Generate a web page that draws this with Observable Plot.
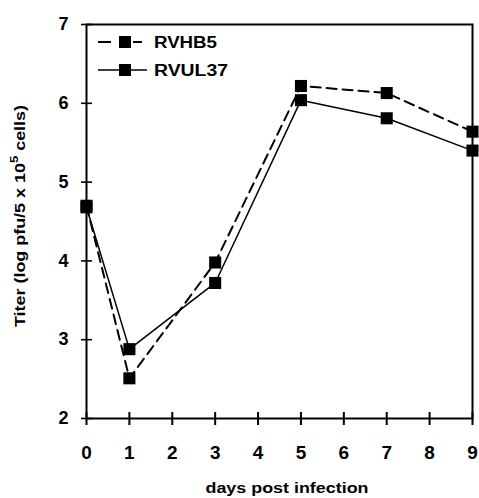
<!DOCTYPE html>
<html>
<head>
<meta charset="utf-8">
<script src="https://cdn.jsdelivr.net/npm/d3@7"></script>
<script src="https://cdn.jsdelivr.net/npm/@observablehq/plot@0.6"></script>
<style>
  html, body { margin: 0; padding: 0; background: #fff; }
  #chart svg { display: block; }
</style>
</head>
<body>
<div id="chart"></div>
<script>
// Data
const days = [0, 1, 3, 5, 7, 9];
const rvhb5 = [4.70, 2.51, 3.98, 6.22, 6.13, 5.64];
const rvul37 = [4.68, 2.88, 3.72, 6.04, 5.81, 5.40];
const xTicks = [0, 1, 2, 3, 4, 5, 6, 7, 8, 9];
const yTicks = [2, 3, 4, 5, 6, 7];
const seriesNames = ["RVHB5", "RVUL37"];
const xLabel = "days post infection";

const dataHB5 = days.map((d, i) => ({day: d, titer: rvhb5[i]}));
const dataUL37 = days.map((d, i) => ({day: d, titer: rvul37[i]}));

const font = "'Liberation Sans', Arial, sans-serif";
const fmt = d3.format("d");

const plot = Plot.plot({
  width: 479,
  height: 498,
  marginLeft: 86,
  marginRight: 7,
  marginTop: 24,
  marginBottom: 80,
  style: {fontFamily: font, fontWeight: "bold", fontSize: "17px", color: "#000", background: "#fff"},
  x: {domain: [0, 9]},
  y: {domain: [2, 7]},
  marks: [
    // crossing tick marks
    Plot.axisX(xTicks, {tickSize: 13, dy: -6, fill: "none", label: null, strokeWidth: 2}),
    Plot.axisY(yTicks, {tickSize: 11, dx: 6, fill: "none", label: null, strokeWidth: 1.6}),
    // tick labels
    Plot.axisX(xTicks, {tickSize: 0, tickPadding: 27, label: null, fontSize: 19, tickFormat: fmt}),
    Plot.axisY(yTicks, {tickSize: 0, tickPadding: 18, label: null, fontSize: 18, tickFormat: fmt}),
    Plot.frame({strokeWidth: 2}),
    Plot.line(dataHB5, {x: "day", y: "titer", stroke: "#000", strokeWidth: 2, strokeDasharray: "10,6"}),
    Plot.line(dataUL37, {x: "day", y: "titer", stroke: "#000", strokeWidth: 1.5}),
    Plot.dot(dataHB5, {x: "day", y: "titer", symbol: "square", r: 6.8, fill: "#000", stroke: "none"}),
    Plot.dot(dataUL37, {x: "day", y: "titer", symbol: "square", r: 6.8, fill: "#000", stroke: "none"})
  ]
});

document.getElementById("chart").appendChild(plot);

const svg = d3.select(plot);

// x axis title
svg.append("text")
  .attr("x", 287).attr("y", 493)
  .attr("text-anchor", "middle")
  .attr("font-family", font).attr("font-weight", "bold").attr("font-size", 14.5)
  .attr("textLength", 163).attr("lengthAdjust", "spacingAndGlyphs")
  .attr("fill", "#000")
  .text(xLabel);

// y axis title with superscript
const yl = svg.append("text")
  .attr("transform", "translate(25,216) rotate(-90)")
  .attr("text-anchor", "middle")
  .attr("font-family", font).attr("font-weight", "bold").attr("font-size", 15)
  .attr("textLength", 222).attr("lengthAdjust", "spacingAndGlyphs")
  .attr("fill", "#000");
yl.append("tspan").text("Titer (log pfu/5 x 10");
yl.append("tspan").attr("dy", -7).attr("font-size", 11).text("5");
yl.append("tspan").attr("dy", 7).text(" cells)");

// legend
const lg = svg.append("g").attr("text-anchor", "start");
const rows = [{y: 42, dash: true}, {y: 70, dash: false}];
rows.forEach((r, i) => {
  const ln = lg.append("line")
    .attr("x1", 98).attr("x2", i === 0 ? 142 : 147).attr("y1", r.y).attr("y2", r.y)
    .attr("stroke", "#000").attr("stroke-width", i === 0 ? 2 : 1.5);
  if (r.dash) ln.attr("stroke-dasharray", "13,22,9");
  lg.append("rect").attr("x", 119).attr("y", r.y - 6).attr("width", 12).attr("height", 12).attr("fill", "#000");
  lg.append("text")
    .attr("x", 154).attr("y", r.y + 6)
    .attr("text-anchor", "start")
    .attr("font-family", font).attr("font-weight", "bold").attr("font-size", 16)
    .attr("textLength", i === 0 ? 63 : 74).attr("lengthAdjust", "spacingAndGlyphs")
    .attr("fill", "#000")
    .text(seriesNames[i]);
});
</script>
</body>
</html>
